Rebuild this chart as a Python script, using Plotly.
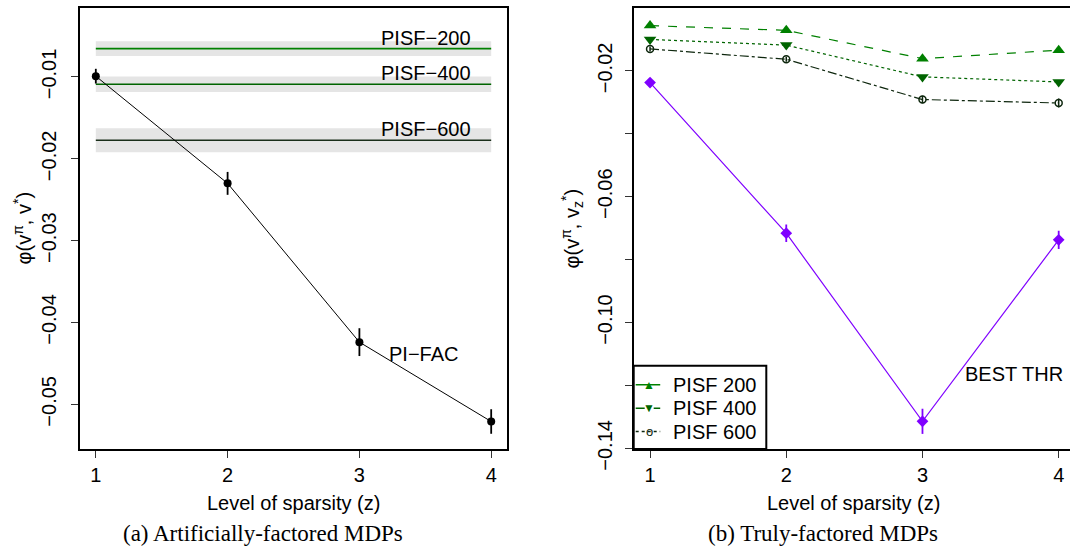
import plotly.graph_objects as go

# ---- data -------------------------------------------------------------
sparsity = [1, 2, 3, 4]

# (a) artificially-factored MDPs
pifac_mean = [-0.0099, -0.0230, -0.0424, -0.0521]
pifac_err = [0.0009, 0.0014, 0.0017, 0.0015]

pisf_names = ["PISF−200", "PISF−400", "PISF−600"]
pisf_art_mean = [-0.00654, -0.01089, -0.01774]
pisf_art_err = [0.0009, 0.00095, 0.00147]
pisf_art_colors = ["#008000", "#006400", "#1a2e1a"]

# (b) truly-factored MDPs
pisf200 = [-0.0056, -0.0071, -0.0161, -0.0134]
pisf400 = [-0.0100, -0.0118, -0.0219, -0.0235]
pisf600 = [-0.0130, -0.0163, -0.0291, -0.0302]
pisf600_err = [0.0008, 0.0008, 0.0012, 0.0014]
best_thr = [-0.0237, -0.0716, -0.1314, -0.0737]
best_thr_err = [0.0010, 0.0028, 0.0040, 0.0029]

legend_labels = ["PISF 200", "PISF 400", "PISF 600"]

left_yticks = [-0.05, -0.04, -0.03, -0.02, -0.01]
left_yticktext = ["−0.05", "−0.04", "−0.03", "−0.02", "−0.01"]
right_yticks = [-0.14, -0.12, -0.10, -0.08, -0.06, -0.04, -0.02]
right_yticktext = ["−0.14", "", "−0.10", "", "−0.06", "", "−0.02"]

SANS = "Liberation Sans, Arial, Helvetica, sans-serif"
SERIF = "Liberation Serif, Times New Roman, serif"
PURPLE = "#7f00ff"
G200, G400, G600 = "#008000", "#006400", "#0d260d"

fig = go.Figure()

# ---- panel (a) --------------------------------------------------------
for name, m, e, c in zip(pisf_names, pisf_art_mean, pisf_art_err, pisf_art_colors):
    # grey confidence band
    fig.add_trace(go.Scatter(
        x=[sparsity[0], sparsity[-1], sparsity[-1], sparsity[0], sparsity[0]],
        y=[m - e, m - e, m + e, m + e, m - e],
        fill="toself", fillcolor="#e5e5e5", line=dict(width=0),
        mode="lines", hoverinfo="skip", showlegend=False,
        xaxis="x", yaxis="y"))
    fig.add_trace(go.Scatter(
        x=[sparsity[0], sparsity[-1]], y=[m, m], mode="lines",
        line=dict(color=c, width=1.6), showlegend=False,
        xaxis="x", yaxis="y"))
    fig.add_annotation(x=3.86, y=m, xref="x", yref="y", text=name,
                       xanchor="right", yanchor="middle", yshift=11,
                       showarrow=False, font=dict(family=SANS, size=20, color="black"))

fig.add_trace(go.Scatter(
    x=sparsity, y=pifac_mean, mode="lines+markers",
    line=dict(color="black", width=1),
    marker=dict(color="black", size=8, symbol="circle"),
    error_y=dict(type="data", array=pifac_err, visible=True, width=0,
                 thickness=1.8, color="black"),
    showlegend=False, xaxis="x", yaxis="y"))
fig.add_annotation(x=3.49, y=-0.0439, xref="x", yref="y", text="PI−FAC",
                   showarrow=False, xanchor="center", yanchor="middle",
                   font=dict(family=SANS, size=20, color="black"))

# ---- panel (b) --------------------------------------------------------
fig.add_trace(go.Scatter(
    x=sparsity, y=pisf200, mode="lines+markers",
    line=dict(color=G200, width=1.2, dash="dash"),
    marker=dict(color=G200, size=11, symbol="triangle-up"),
    showlegend=False, xaxis="x2", yaxis="y2"))
fig.add_trace(go.Scatter(
    x=sparsity, y=pisf400, mode="lines+markers",
    line=dict(color=G400, width=1.2, dash="dot"),
    marker=dict(color=G400, size=11, symbol="triangle-down"),
    showlegend=False, xaxis="x2", yaxis="y2"))
fig.add_trace(go.Scatter(
    x=sparsity, y=pisf600, mode="lines+markers",
    line=dict(color=G600, width=1.2, dash="dashdot"),
    marker=dict(color="rgba(0,0,0,0)", size=7, symbol="circle",
                line=dict(color=G600, width=1.5)),
    error_y=dict(type="data", array=pisf600_err, visible=True, width=0,
                 thickness=1.5, color=G600),
    showlegend=False, xaxis="x2", yaxis="y2"))
fig.add_trace(go.Scatter(
    x=sparsity, y=best_thr, mode="lines+markers",
    line=dict(color=PURPLE, width=1.2),
    marker=dict(color=PURPLE, size=9, symbol="diamond"),
    error_y=dict(type="data", array=best_thr_err, visible=True, width=0,
                 thickness=1.8, color=PURPLE),
    showlegend=False, xaxis="x2", yaxis="y2"))
fig.add_annotation(x=3.313, y=-0.1164, xref="x2", yref="y2", text="BEST THR",
                   showarrow=False, xanchor="left", yanchor="middle", xshift=-2,
                   font=dict(family=SANS, size=20, color="black"))

# ---- boxed key in the lower-left corner of panel (b) ------------------
W, H = 1070, 548
key_x0, key_x1 = 633.7 / W, 766.3 / W
key_y0, key_y1 = (H - 449) / H, (H - 365.7) / H
fig.add_shape(type="rect", xref="paper", yref="paper",
              x0=key_x0, x1=key_x1, y0=key_y0, y1=key_y1,
              line=dict(color="black", width=2), fillcolor="white", layer="above")

key_rows = [0.77, 0.49, 0.21]
key_styles = [
    (G200, "solid", "triangle-up", G200, 9),
    (G400, "dash", "triangle-down", G400, 9),
    (G600, "dot", "circle-open", G600, 6),
]
for label, row, (c, dash, sym, mc, ms) in zip(legend_labels, key_rows, key_styles):
    fig.add_shape(type="line", xref="x3", yref="y3", x0=0.015, x1=0.20,
                  y0=row, y1=row, layer="above",
                  line=dict(color=c, width=1.5, dash=dash))
    fig.add_annotation(x=0.118, y=row, xref="x3", yref="y3",
                       text="▲" if sym == "triangle-up" else ("▼" if sym == "triangle-down" else "o"),
                       showarrow=False, xanchor="center", yanchor="middle",
                       font=dict(family=SANS, size=12 if sym != "circle-open" else 13, color=mc))
    fig.add_annotation(x=0.285, y=row, xref="x3", yref="y3", text=label,
                       showarrow=False, xanchor="left", yanchor="middle",
                       font=dict(family=SANS, size=20, color="black"))

# ---- layout -----------------------------------------------------------
ydom = [(H - 449) / H, (H - 8) / H]
axis_common = dict(showgrid=False, zeroline=False, showline=True,
                   linecolor="black", linewidth=1.5, ticks="outside",
                   ticklen=7, tickwidth=1, tickcolor="#333333",
                   automargin=False,
                   tickfont=dict(family=SANS, size=20, color="black"))

fig.update_layout(
    width=W, height=H,
    margin=dict(l=0, r=0, t=0, b=0, autoexpand=False),
    paper_bgcolor="white", plot_bgcolor="rgba(0,0,0,0)",
    font=dict(family=SANS, size=20, color="black"),
    showlegend=False,
    xaxis=dict(domain=[80 / W, 507 / W], range=[0.88, 4.12],
               tickvals=sparsity, mirror=True, anchor="y", **axis_common),
    yaxis=dict(domain=ydom, range=[-0.05546, -0.00157],
               tickvals=left_yticks, ticktext=left_yticktext,
               tickangle=-90, mirror=True, anchor="x",
               ticklabelstandoff=7, **axis_common),
    xaxis2=dict(domain=[633.7 / W, 1.0], range=[0.88, 4.083],
                tickvals=sparsity, mirror=True, anchor="y2", **axis_common),
    yaxis2=dict(domain=ydom, range=[-0.1402, 0.0],
                tickvals=right_yticks, ticktext=right_yticktext,
                tickangle=-90, mirror=False, anchor="x2",
                ticklabelstandoff=5, **axis_common),
    xaxis3=dict(domain=[key_x0, key_x1], range=[0, 1], visible=False,
                fixedrange=True, anchor="y3"),
    yaxis3=dict(domain=[key_y0, key_y1], range=[0, 1], visible=False,
                fixedrange=True, anchor="x3"),
)

# axis titles
fig.add_annotation(x=22 / W, y=(H - 228.5) / H, xref="paper", yref="paper",
                   text="φ(v<sup>π</sup>, v<sup>*</sup>)", textangle=-90,
                   showarrow=False, xanchor="center", yanchor="middle",
                   font=dict(family=SANS, size=20))
fig.add_annotation(x=572 / W, y=(H - 228.5) / H, xref="paper", yref="paper",
                   text="φ(v<sup>π</sup>, v<sub>z</sub><sup>*</sup>)", textangle=-90,
                   showarrow=False, xanchor="center", yanchor="middle",
                   font=dict(family=SANS, size=20))
fig.add_annotation(x=293.5 / W, y=(H - 502.7) / H, xref="paper", yref="paper",
                   text="Level of sparsity (z)", showarrow=False,
                   xanchor="center", yanchor="middle", font=dict(family=SANS, size=20))
fig.add_annotation(x=853.3 / W, y=(H - 502.7) / H, xref="paper", yref="paper",
                   text="Level of sparsity (z)", showarrow=False,
                   xanchor="center", yanchor="middle", font=dict(family=SANS, size=20))

# sub-figure captions
fig.add_annotation(x=263 / W, y=0, xref="paper", yref="paper",
                   text="(a) Artificially-factored MDPs", showarrow=False,
                   xanchor="center", yanchor="bottom", font=dict(family=SERIF, size=23))
fig.add_annotation(x=823 / W, y=0, xref="paper", yref="paper",
                   text="(b) Truly-factored MDPs", showarrow=False,
                   xanchor="center", yanchor="bottom", font=dict(family=SERIF, size=23))

fig.write_html("out.html")
